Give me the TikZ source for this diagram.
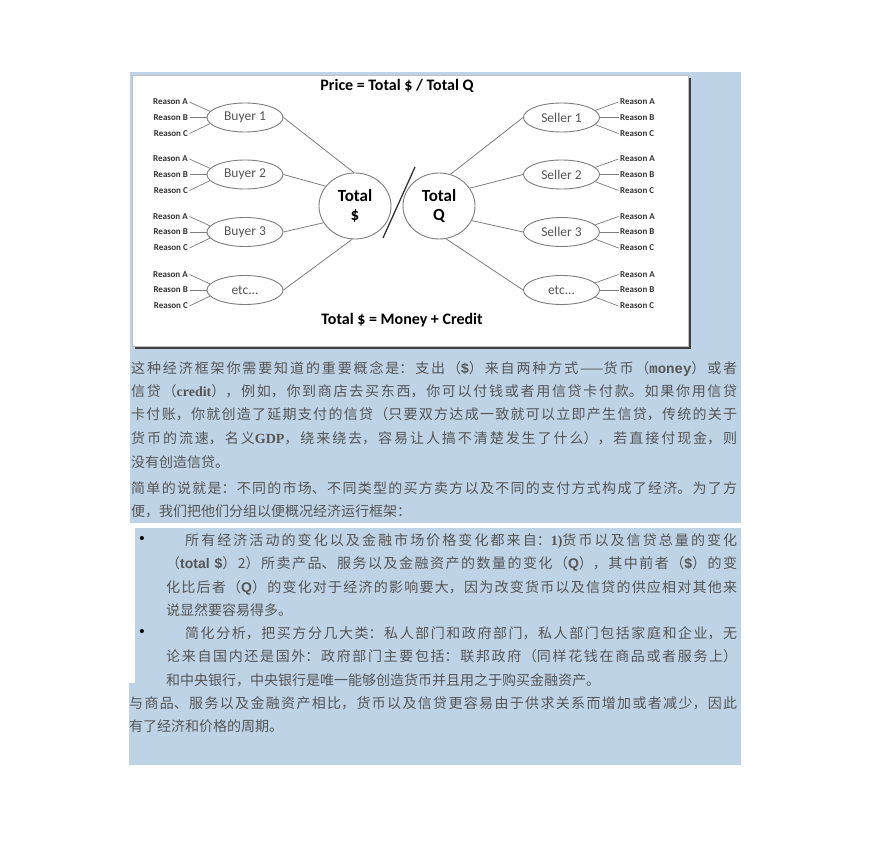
\documentclass[tikz,border=0pt]{standalone}
\usepackage{fontspec}
\usepackage{xcolor}
\usepackage{tikz}
\usetikzlibrary{shapes.geometric}
\newfontfamily\cjk{Noto Sans CJK SC}
\newfontfamily\carlito{Carlito}
\newfontfamily\lmono{Liberation Mono}
\newfontfamily\lserif{Liberation Serif}
\newfontfamily\lsans{Liberation Sans}
\XeTeXlinebreaklocale "zh"
\XeTeXlinebreakskip=0pt plus 3pt
\definecolor{panelblue}{RGB}{190,211,230}
\definecolor{bodygray}{RGB}{85,85,85}
\definecolor{linegray}{RGB}{125,125,125}
\newcommand{\bsans}[1]{{\lsans\bfseries #1}}
\newcommand{\bmono}[1]{{\lmono\bfseries #1}}
\newcommand{\bserif}[1]{{\lserif\bfseries #1}}
\tikzset{
  agent/.style={ellipse, draw=linegray, line width=0.9pt, minimum width=76pt, minimum height=29pt, inner sep=0pt, font=\carlito\fontsize{13.5}{15}\selectfont, text=bodygray},
  total/.style={ellipse, draw=linegray, line width=0.9pt, minimum width=72pt, minimum height=66pt, inner sep=0pt, align=center, font=\carlito\bfseries\fontsize{17}{19}\selectfont},
  reason/.style={inner sep=1.5pt, font=\carlito\bfseries\fontsize{9}{10}\selectfont, text=black!80},
  link/.style={draw=linegray, line width=0.8pt},
  twig/.style={draw=linegray, line width=0.7pt},
  headline/.style={font=\carlito\bfseries\fontsize{16}{18}\selectfont},
  para/.style={anchor=base west, inner sep=0pt, text width=#1, align=justify, text=bodygray, font=\cjk\fontsize{14}{23.5}\selectfont},
  bulletdot/.style={inner sep=0pt, font=\lsans\fontsize{15}{16}\selectfont}
}
\begin{document}
\begin{tikzpicture}[x=1pt, y=-1pt]
  \useasboundingbox (0,0) rectangle (870,842);
  \fill[panelblue] (130,72) rectangle (741,523);
  \fill[panelblue] (135,528) rectangle (741,683);
  \fill[panelblue] (129,683) rectangle (741,765);
  \fill[black!75] (135,78) rectangle (691,349);
  \filldraw[fill=white, draw=gray!50, line width=0.5pt] (132,75) rectangle (688,346);

  \node[headline] (title) at (397,86) {Price = Total \$ / Total Q};
  \node[headline] (eqn) at (402,320) {Total \$ = Money + Credit};

  \node[total] (tot) at (355,206) {Total\\\$};
  \node[total] (totq) at (439,206) {Total\\Q};
  \coordinate (sl1) at (415,167);
  \coordinate (sl2) at (383,238);
  \draw[black!80, line width=1.3pt] (sl1) -- (sl2);

  \node[agent] (b1) at (245,117.5) {Buyer 1};
  \node[agent] (b2) at (245,174.5) {Buyer 2};
  \node[agent] (b3) at (245,232) {Buyer 3};
  \node[agent] (b4) at (245,290) {etc...};

  \node[agent] (s1) at (561.5,117.5) {Seller 1};
  \node[agent] (s2) at (561.5,174.5) {Seller 2};
  \node[agent] (s3) at (561.5,232) {Seller 3};
  \node[agent] (s4) at (561.5,290) {etc...};

  \draw[link] (b1.east) -- (tot.92);
  \draw[link] (b2.east) -- (tot.146);
  \draw[link] (b3.east) -- (tot.208);
  \draw[link] (b4.east) -- (tot.265);
  \draw[link] (s1.west) -- (totq.70);
  \draw[link] (s2.west) -- (totq.30);
  \draw[link] (s3.west) -- (totq.336);
  \draw[link] (s4.west) -- (totq.282);

  \foreach \k in {1,2,3,4} {
    \node[reason, anchor=east] (bA\k) at ([xshift=-55.5pt, yshift=15.5pt]b\k.center) {Reason A};
    \node[reason, anchor=east] (bB\k) at ([xshift=-55.5pt]b\k.center) {Reason B};
    \node[reason, anchor=east] (bC\k) at ([xshift=-55.5pt, yshift=-16pt]b\k.center) {Reason C};
    \node[reason, anchor=west] (sA\k) at ([xshift=57pt, yshift=15.5pt]s\k.center) {Reason A};
    \node[reason, anchor=west] (sB\k) at ([xshift=57pt]s\k.center) {Reason B};
    \node[reason, anchor=west] (sC\k) at ([xshift=57pt, yshift=-16pt]s\k.center) {Reason C};
    \draw[twig] (bA\k.east) -- (b\k.170);
    \draw[twig] (bB\k.east) -- (b\k.west);
    \draw[twig] (bC\k.east) -- (b\k.190);
    \draw[twig] (sA\k.west) -- (s\k.12);
    \draw[twig] (sB\k.west) -- (s\k.east);
    \draw[twig] (sC\k.west) -- (s\k.348);
  }

  \node[para=606pt] (p1) at (131,373) {这种经济框架你需要知道的重要概念是：支出（\bsans{\$}）来自两种方式——货币（\bmono{money}）或者\linebreak
信贷（\bserif{credit}），例如，你到商店去买东西，你可以付钱或者用信贷卡付款。如果你用信贷\linebreak
卡付账，你就创造了延期支付的信贷（只要双方达成一致就可以立即产生信贷，传统的关于\linebreak
货币的流速，名义\bserif{GDP}，绕来绕去，容易让人搞不清楚发生了什么），若直接付现金，则\linebreak
没有创造信贷。};
  \node[para=606pt] (p2) at (131,493) {简单的说就是：不同的市场、不同类型的买方卖方以及不同的支付方式构成了经济。为了方\linebreak
便，我们把他们分组以便概况经济运行框架：};

  \node[bulletdot] (dot1) at (142,540) {•};
  \node[para=571pt] (item1) at (166,545) {\hspace*{19pt}所有经济活动的变化以及金融市场价格变化都来自：\bserif{1)}货币以及信贷总量的变化\linebreak
（\bsans{total \$}）2）所卖产品、服务以及金融资产的数量的变化（\bsans{Q}），其中前者（\bsans{\$}）的变\linebreak
化比后者（\bsans{Q}）的变化对于经济的影响要大，因为改变货币以及信贷的供应相对其他来\linebreak
说显然要容易得多。};
  \node[bulletdot] (dot2) at (142,633) {•};
  \node[para=571pt] (item2) at (166,638) {\hspace*{19pt}简化分析，把买方分几大类：私人部门和政府部门，私人部门包括家庭和企业，无\linebreak
论来自国内还是国外：政府部门主要包括：联邦政府（同样花钱在商品或者服务上）\linebreak
和中央银行，中央银行是唯一能够创造货币并且用之于购买金融资产。};

  \node[para=608pt] (p3) at (129,708) {与商品、服务以及金融资产相比，货币以及信贷更容易由于供求关系而增加或者减少，因此\linebreak
有了经济和价格的周期。};
\end{tikzpicture}
\end{document}
